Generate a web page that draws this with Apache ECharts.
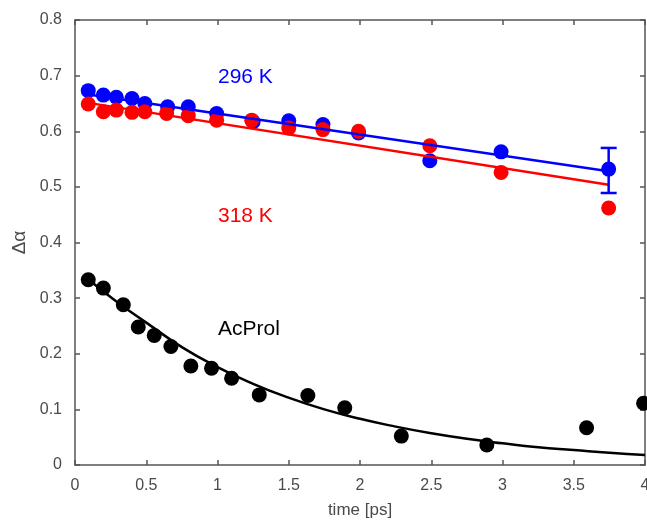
<!DOCTYPE html>
<html>
<head>
<meta charset="utf-8">
<script src="https://cdn.jsdelivr.net/npm/echarts@6/dist/echarts.min.js"></script>
<style>html,body{margin:0;padding:0;background:#fff}#c{width:647px;height:520px}</style>
</head>
<body>
<div id="c"></div>
<script>
// 296 K (blue) points
const blueX = [0.093, 0.199, 0.29, 0.40, 0.49, 0.65, 0.795, 0.994, 1.25, 1.5, 1.74, 1.99, 2.49, 2.99, 3.745];
const blueY = [0.673, 0.665, 0.661, 0.659, 0.650, 0.644, 0.644, 0.632, 0.617, 0.619, 0.612, 0.597, 0.547, 0.563, 0.532];
// 318 K (red) points
const redX = [0.093, 0.199, 0.29, 0.40, 0.49, 0.643, 0.795, 0.994, 1.24, 1.5, 1.74, 1.99, 2.49, 2.99, 3.745];
const redY = [0.649, 0.635, 0.638, 0.634, 0.635, 0.632, 0.628, 0.620, 0.620, 0.606, 0.603, 0.600, 0.574, 0.526, 0.462];
// AcProl (black) points
const blackX = [0.093, 0.199, 0.339, 0.444, 0.556, 0.673, 0.813, 0.958, 1.099, 1.293, 1.634, 1.893, 2.29, 2.89, 3.59, 3.99];
const blackY = [0.333, 0.318, 0.288, 0.248, 0.233, 0.213, 0.178, 0.174, 0.156, 0.126, 0.125, 0.103, 0.052, 0.036, 0.067, 0.111];
// fit lines
const blueFitX = [0.093, 3.745];
const blueFitY = [0.666, 0.528];
const redFitX = [0.093, 3.745];
const redFitY = [0.651, 0.504];
const blackFitX = [0.093, 0.3, 0.5, 0.75, 1.0, 1.25, 1.5, 1.75, 2.0, 2.25, 2.5, 2.75, 3.0, 3.25, 3.5, 3.75, 4.0];
const blackFitY = [0.334, 0.292, 0.256, 0.212, 0.176, 0.146, 0.121, 0.100, 0.083, 0.069, 0.057, 0.047, 0.039, 0.032, 0.027, 0.022, 0.018];
// error bar on the last 296 K point: [x, low, high]
const errBars = [[3.745, 0.489, 0.570]];
// axis ticks
const xTicks = {min: 0, max: 4, interval: 0.5};
const yTicks = {min: 0, max: 0.8, interval: 0.1};

const zip = (xs, ys) => xs.map((x, i) => [x, ys[i]]);
const axisColor = '#555';
const labelColor = '#4a4a4a';
const font = 'Liberation Sans, Arial, sans-serif';
const lineAx = {show: true, onZero: false, lineStyle: {color: axisColor, width: 1.5}};
const tickAx = {show: true, inside: true, length: 5, lineStyle: {color: axisColor, width: 1.5}};

const chart = echarts.init(document.getElementById('c'), null, {renderer: 'canvas'});
chart.setOption({
  animation: false,
  backgroundColor: '#fff',
  grid: {left: 75, right: 2, top: 20, bottom: 55, containLabel: false, outerBoundsMode: 'none'},
  xAxis: [{
    type: 'value', min: xTicks.min, max: xTicks.max, interval: xTicks.interval,
    name: 'time [ps]', nameLocation: 'middle', nameGap: 37,
    nameTextStyle: {color: labelColor, fontSize: 17, fontFamily: font},
    axisLine: lineAx, axisTick: tickAx,
    axisLabel: {color: labelColor, fontSize: 16, fontFamily: font, margin: 13},
    splitLine: {show: false}
  }, {
    type: 'value', position: 'top', min: xTicks.min, max: xTicks.max, interval: xTicks.interval,
    axisLine: lineAx, axisTick: tickAx,
    axisLabel: {show: false}, splitLine: {show: false}
  }],
  yAxis: [{
    type: 'value', min: yTicks.min, max: yTicks.max, interval: yTicks.interval,
    name: 'Δα', nameLocation: 'middle', nameGap: 46, nameRotate: 90,
    nameTextStyle: {color: labelColor, fontSize: 19, fontFamily: font},
    axisLine: lineAx, axisTick: tickAx,
    axisLabel: {color: labelColor, fontSize: 16, fontFamily: font, margin: 13},
    splitLine: {show: false}
  }, {
    type: 'value', position: 'right', min: yTicks.min, max: yTicks.max, interval: yTicks.interval,
    axisLine: lineAx, axisTick: tickAx,
    axisLabel: {show: false}, splitLine: {show: false}
  }],
  series: [
    {type: 'scatter', data: zip(blueX, blueY), symbolSize: 15, itemStyle: {color: '#0000ff', opacity: 1}, z: 3},
    {type: 'scatter', data: zip(redX, redY), symbolSize: 15, itemStyle: {color: '#ff0000', opacity: 1}, z: 4},
    {type: 'line', data: zip(blueFitX, blueFitY), showSymbol: false, lineStyle: {color: '#0000ff', width: 2.5}, z: 5},
    {type: 'line', data: zip(redFitX, redFitY), showSymbol: false, lineStyle: {color: '#ff0000', width: 2.5}, z: 5},
    {type: 'line', data: zip(blackFitX, blackFitY), showSymbol: false, smooth: true, lineStyle: {color: '#000', width: 2.5}, z: 2},
    {type: 'scatter', data: zip(blackX, blackY), symbolSize: 15, itemStyle: {color: '#000', opacity: 1}, z: 3},
    {
      type: 'custom', data: errBars, z: 6,
      renderItem: function (params, api) {
        const x = api.value(0);
        const lo = api.coord([x, api.value(1)]);
        const hi = api.coord([x, api.value(2)]);
        const cap = 8;
        const style = {stroke: '#0000ff', lineWidth: 2.5};
        return {type: 'group', children: [
          {type: 'line', shape: {x1: lo[0], y1: lo[1], x2: hi[0], y2: hi[1]}, style: style},
          {type: 'line', shape: {x1: lo[0] - cap, y1: lo[1], x2: lo[0] + cap, y2: lo[1]}, style: style},
          {type: 'line', shape: {x1: hi[0] - cap, y1: hi[1], x2: hi[0] + cap, y2: hi[1]}, style: style}
        ]};
      }
    }
  ],
  graphic: [
    {type: 'text', left: 218, top: 67, style: {text: '296 K', fill: '#0000ff', fontSize: 21, fontFamily: font}},
    {type: 'text', left: 218, top: 206, style: {text: '318 K', fill: '#ff0000', fontSize: 21, fontFamily: font}},
    {type: 'text', left: 218, top: 319, style: {text: 'AcProl', fill: '#000', fontSize: 21, fontFamily: font}}
  ]
});
</script>
</body>
</html>
